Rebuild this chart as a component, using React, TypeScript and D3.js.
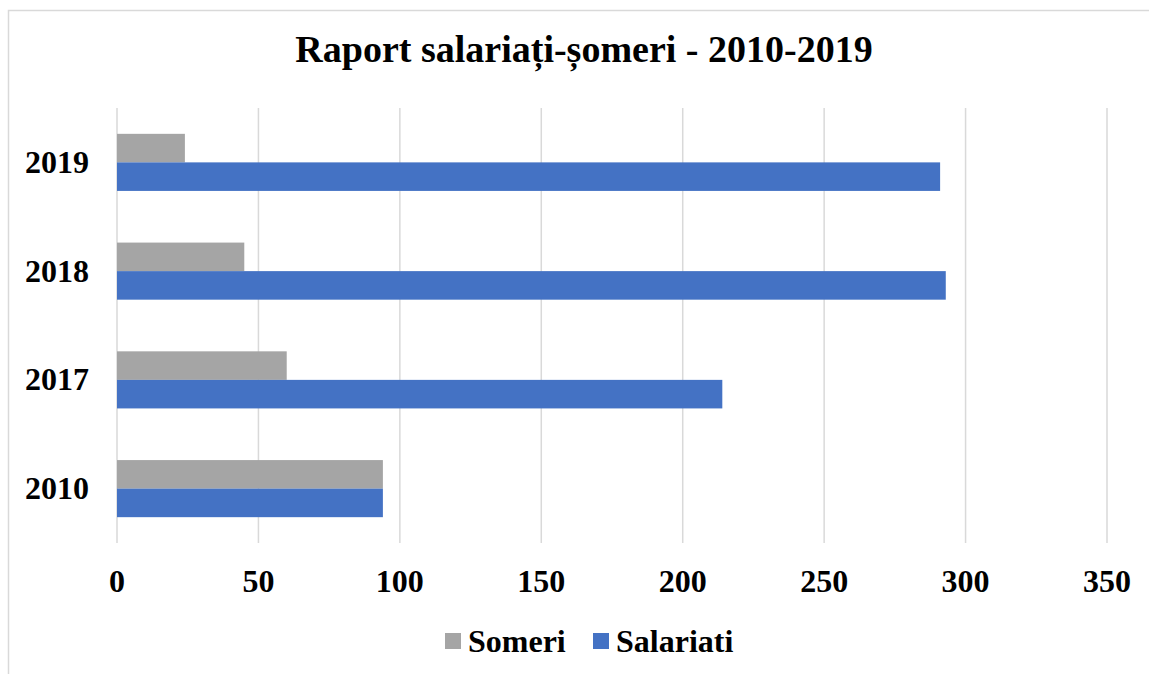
import React, { useEffect, useRef } from 'react';
import { select, scaleLinear, scaleBand } from 'd3';

const years = ['2010', '2017', '2018', '2019'];
const someri = [94, 60, 45, 24];
const salariati = [94, 214, 293, 291];
const seriesNames = ['Someri', 'Salariati'];
const seriesColors = ['#A5A5A5', '#4472C4'];
const xTicks = [0, 50, 100, 150, 200, 250, 300, 350];

const App = () => {
  const svgRef = useRef<SVGSVGElement>(null);

  useEffect(() => {
    const width = 1149;
    const height = 674;
    const margin = { top: 108, right: 42, bottom: 131, left: 117 };

    const svg = select(svgRef.current);
    svg.selectAll('*').remove();
    svg.attr('width', width).attr('height', height)
      .style('font-family', '"Liberation Serif", "Times New Roman", serif')
      .style('font-weight', 'bold');

    // chart frame (cropped on the right and bottom)
    svg.append('rect')
      .attr('x', 8.5).attr('y', 10.5)
      .attr('width', 1300).attr('height', 800)
      .attr('fill', '#fff')
      .attr('stroke', '#D9D9D9')
      .attr('stroke-width', 1.5);

    const x = scaleLinear()
      .domain([0, 350])
      .range([margin.left, width - margin.right]);

    const y = scaleBand()
      .domain([...years].reverse())
      .range([margin.top, height - margin.bottom]);

    const groupHeight = y.bandwidth() * 0.525;
    const inner = scaleBand()
      .domain(seriesNames)
      .range([0, groupHeight]);

    // gridlines
    svg.append('g')
      .selectAll('line')
      .data(xTicks)
      .enter().append('line')
      .attr('x1', d => x(d)).attr('x2', d => x(d))
      .attr('y1', margin.top).attr('y2', height - margin.bottom)
      .attr('stroke', '#D9D9D9')
      .attr('stroke-width', 1.5);

    // bars
    const data = [someri, salariati];
    data.forEach((values, si) => {
      svg.append('g')
        .selectAll('rect')
        .data(values)
        .enter().append('rect')
        .attr('x', x(0))
        .attr('y', (d, i) => (y(years[i]) as number) + (y.bandwidth() - groupHeight) / 2 + (inner(seriesNames[si]) as number))
        .attr('width', d => x(d) - x(0))
        .attr('height', inner.bandwidth())
        .attr('fill', seriesColors[si]);
    });

    // x tick labels
    svg.append('g')
      .selectAll('text')
      .data(xTicks)
      .enter().append('text')
      .attr('x', d => x(d))
      .attr('y', 592)
      .attr('text-anchor', 'middle')
      .style('font-size', '32px')
      .text(d => d);

    // category labels
    svg.append('g')
      .selectAll('text')
      .data(years)
      .enter().append('text')
      .attr('x', 89)
      .attr('y', d => (y(d) as number) + y.bandwidth() / 2 + 10.5)
      .attr('text-anchor', 'end')
      .style('font-size', '32px')
      .text(d => d);

    // title
    svg.append('text')
      .attr('x', 584)
      .attr('y', 62)
      .attr('text-anchor', 'middle')
      .style('font-size', '38px')
      .text('Raport salariați-șomeri - 2010-2019');

    // legend
    const legendX = [445, 593];
    seriesNames.forEach((name, i) => {
      const lg = svg.append('g').attr('transform', `translate(${legendX[i]}, 633)`);
      lg.append('rect')
        .attr('width', 16).attr('height', 16)
        .attr('fill', seriesColors[i]);
      lg.append('text')
        .attr('x', 23)
        .attr('y', 19)
        .style('font-size', '32px')
        .text(name);
    });
  }, []);

  return (
    <div>
      <svg ref={svgRef} style={{ position: 'absolute', left: 0, top: 0 }}></svg>
    </div>
  );
};

export default App;
